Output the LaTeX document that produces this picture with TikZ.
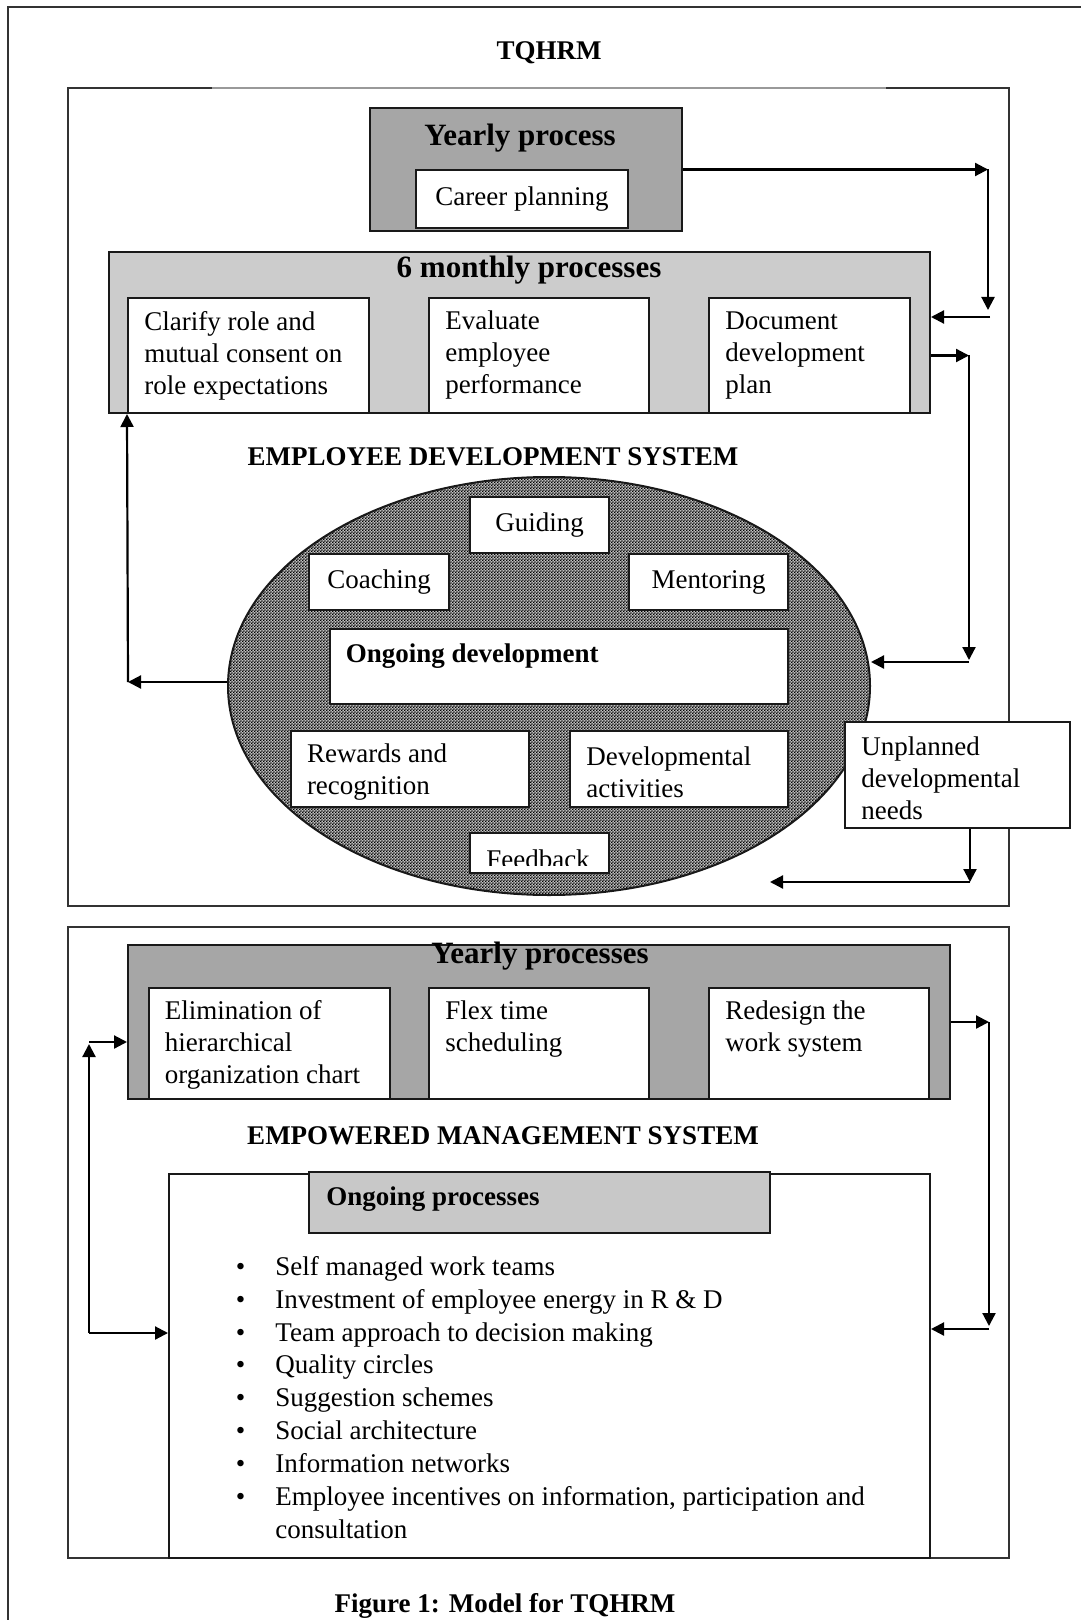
\documentclass[tikz,border=0pt]{standalone}
\usepackage{fontspec}
\setmainfont{Liberation Serif}
\usetikzlibrary{arrows.meta,shapes.geometric,patterns.meta}
\definecolor{dg}{HTML}{A6A6A6}
\definecolor{lg}{HTML}{CCCCCC}
\definecolor{hg}{HTML}{C8C8C8}
\pgfdeclarepattern{
  name=checker,
  type=uncolored,
  bottom left={\pgfpoint{0pt}{0pt}},
  top right={\pgfpoint{1.6pt}{1.6pt}},
  tile size={\pgfpoint{1.6pt}{1.6pt}},
  code={
    \pgfpathrectangle{\pgfpoint{0pt}{0pt}}{\pgfpoint{0.8pt}{0.8pt}}
    \pgfpathrectangle{\pgfpoint{0.8pt}{0.8pt}}{\pgfpoint{0.8pt}{0.8pt}}
    \pgfusepath{fill}
  }
}
\newcommand\myBody{\fontsize{13.5}{16}\selectfont}
\newcommand\myHead{\fontsize{15.5}{18}\selectfont\bfseries}
\newcommand\myLbl{\fontsize{13.5}{16}\selectfont\bfseries}
\begin{document}
\begin{tikzpicture}[x=0.5pt,y=-0.5pt,
  sect/.style={draw=black!80, line width=0.8pt, inner sep=0pt},
  box/.style={draw=black!90, line width=1pt, fill=white, inner sep=0pt},
  tx/.style={anchor=west, align=left, inner sep=0pt, font=\myBody},
  hd/.style={inner sep=0pt, font=\myHead},
  lbl/.style={inner sep=0pt, font=\myLbl},
  arr/.style={line width=1.1pt, -{Triangle[length=6.5pt,width=6.5pt]}}
]
\useasboundingbox (0,0) rectangle (1081,1620);
% page border
\draw[black!80, line width=0.8pt] (8,1620) -- (8,7) -- (1081,7);

\node[lbl] (title) at (549,53) {TQHRM};

% ---- top section
\node[sect, minimum width=470.5pt, minimum height=409pt] (sec1) at (538.5,497) {};
\draw[black!40, line width=1pt] (212,88) -- (886,88);

\node[box, fill=dg, minimum width=156pt, minimum height=61.5pt] (yp) at (526,169.5) {};
\node[hd] (ypt) at (520,138) {Yearly process};
\node[box, minimum width=106pt, minimum height=29pt, font=\myBody] (cp) at (522,199) {Career planning};

\node[box, fill=lg, minimum width=410.5pt, minimum height=80.5pt] (mp) at (519.5,332.5) {};
\node[hd] (mpt) at (529,270) {6 monthly processes};
\node[box, minimum width=120.5pt, minimum height=57.5pt] (b1) at (248.5,355.5) {};
\node[tx] (b1t) at ([xshift=8.5pt]b1.west) {Clarify role and\\mutual consent on\\role expectations};
\node[box, minimum width=110pt, minimum height=57.5pt] (b2) at (539,355.5) {};
\node[tx] (b2t) at ([xshift=8.5pt]b2.west) {Evaluate\\employee\\performance};
\node[box, minimum width=100.5pt, minimum height=57.5pt] (b3) at (809.5,355.5) {};
\node[tx] (b3t) at ([xshift=8.5pt]b3.west) {Document\\development\\plan};

\node[lbl] (eds) at (493,457) {EMPLOYEE DEVELOPMENT SYSTEM};

\node[ellipse, draw=black!90, line width=1pt, preaction={fill=black!25}, pattern=checker,
      minimum width=321pt, minimum height=209pt, inner sep=0pt] (ell) at (549,686) {};

\node[box, minimum width=69.5pt, minimum height=28pt, font=\myBody] (gd) at (539.5,525) {Guiding};
\node[box, minimum width=70pt, minimum height=28pt, font=\myBody] (co) at (379,582) {Coaching};
\node[box, minimum width=79.5pt, minimum height=28pt, font=\myBody] (me) at (708.5,582) {Mentoring};
\node[box, minimum width=229.25pt, minimum height=37.5pt] (og) at (558.75,666.5) {};
\node[lbl, anchor=west] (ogt) at ([xshift=8.5pt,yshift=5.25pt]og.west) {Ongoing development};
\node[box, minimum width=119.2pt, minimum height=38pt] (rr) at (409.8,769) {};
\node[tx] (rrt) at ([xshift=8.5pt,yshift=-1.5pt]rr.west) {Rewards and\\recognition};
\node[box, minimum width=109pt, minimum height=38pt] (da) at (679,769) {};
\node[tx] (dat) at ([xshift=8.5pt,yshift=-1.5pt]da.west) {Developmental\\activities};
\node[box, minimum width=69.5pt, minimum height=20pt] (fb) at (539.5,853) {};
\begin{scope}
  \clip (470,834) rectangle (609,865);
  \node[inner sep=0pt, font=\myBody, anchor=base] (fbt) at (538,868) {Feedback};
\end{scope}

\node[box, minimum width=112.5pt, minimum height=53pt] (un) at (957.5,775) {};
\node[tx] (unt) at ([xshift=8.5pt,yshift=-1.5pt]un.west) {Unplanned\\developmental\\needs};

% top arrows
\coordinate (c1) at (988,169.5);
\coordinate (c2) at (988,310);
\coordinate (c3) at (990,317);
\coordinate (c4) at (969,355.5);
\coordinate (c5) at (969,660);
\coordinate (c6) at (969,662);
\coordinate (c7) at (128,682);
\coordinate (c8) at (970,882);
\coordinate (c9) at (770,882);
\draw[arr] (yp.east) -- (c1);
\draw[arr] (c1) -- (c2);
\draw[arr] (c3) -- (mp.east |- c3);
\draw[arr] (mp.east |- c4) -- (c4);
\draw[arr] (c4) -- (c5);
\draw[arr] (c6) -- (ell.east |- c6);
\draw[arr] (ell.west |- c7) -- (c7);
\draw[arr] (c7) -- (b1.south west);
\draw[arr] (un.south -| c8) -- (c8);
\draw[arr] (c8) -- (c9);

% ---- bottom section
\node[sect, minimum width=470.5pt, minimum height=315.5pt] (sec2) at (538.5,1242.5) {};
\node[box, fill=dg, minimum width=411pt, minimum height=77pt] (yps) at (539,1022) {};
\node[hd] (ypst) at (540,956) {Yearly processes};
\node[box, minimum width=120.75pt, minimum height=55.5pt] (e1) at (269.25,1043.5) {};
\node[tx] (e1t) at ([xshift=8.5pt,yshift=-0.75pt]e1.west) {Elimination of\\hierarchical\\organization chart};
\node[box, minimum width=110pt, minimum height=55.5pt] (e2) at (539,1043.5) {};
\node[tx] (e2t) at ([xshift=8.5pt,yshift=7pt]e2.west) {Flex time\\scheduling};
\node[box, minimum width=110pt, minimum height=55.5pt] (e3) at (819,1043.5) {};
\node[tx] (e3t) at ([xshift=8.5pt,yshift=7pt]e3.west) {Redesign the\\work system};

\node[lbl] (ems) at (503,1136) {EMPOWERED MANAGEMENT SYSTEM};

\node[box, minimum width=380.5pt, minimum height=192pt] (ob) at (549.5,1366) {};
\node[box, fill=hg, minimum width=230.5pt, minimum height=30.5pt] (oh) at (539.5,1202.5) {};
\node[lbl, anchor=west] (oht) at ([xshift=9pt,yshift=1.75pt]oh.west) {Ongoing processes};
\node[anchor=west, align=left, inner sep=0pt, font=\fontsize{13.5}{16.45}\selectfont] (list) at (275,1397.5) {%
\llap{\textbullet\hspace{15pt}}Self managed work teams\\
\llap{\textbullet\hspace{15pt}}Investment of employee energy in R \& D\\
\llap{\textbullet\hspace{15pt}}Team approach to decision making\\
\llap{\textbullet\hspace{15pt}}Quality circles\\
\llap{\textbullet\hspace{15pt}}Suggestion schemes\\
\llap{\textbullet\hspace{15pt}}Social architecture\\
\llap{\textbullet\hspace{15pt}}Information networks\\
\llap{\textbullet\hspace{15pt}}Employee incentives on information, participation and\\
consultation};

% bottom arrows
\coordinate (d1) at (989,1022);
\coordinate (d2) at (989,1326);
\coordinate (d3) at (989,1329);
\coordinate (d4) at (89,1333);
\coordinate (d5) at (89,1044);
\coordinate (d6) at (89,1042);
\draw[arr] (yps.east) -- (d1);
\draw[arr] (d1) -- (d2);
\draw[arr] (d3) -- (ob.east |- d3);
\draw[arr] (d4) -- (ob.west |- d4);
\draw[arr] (d4) -- (d5);
\draw[arr] (d6) -- (yps.west |- d6);

\node[lbl, anchor=base] (cap) at (505,1612) {Figure 1: Model for TQHRM};
\end{tikzpicture}
\end{document}
